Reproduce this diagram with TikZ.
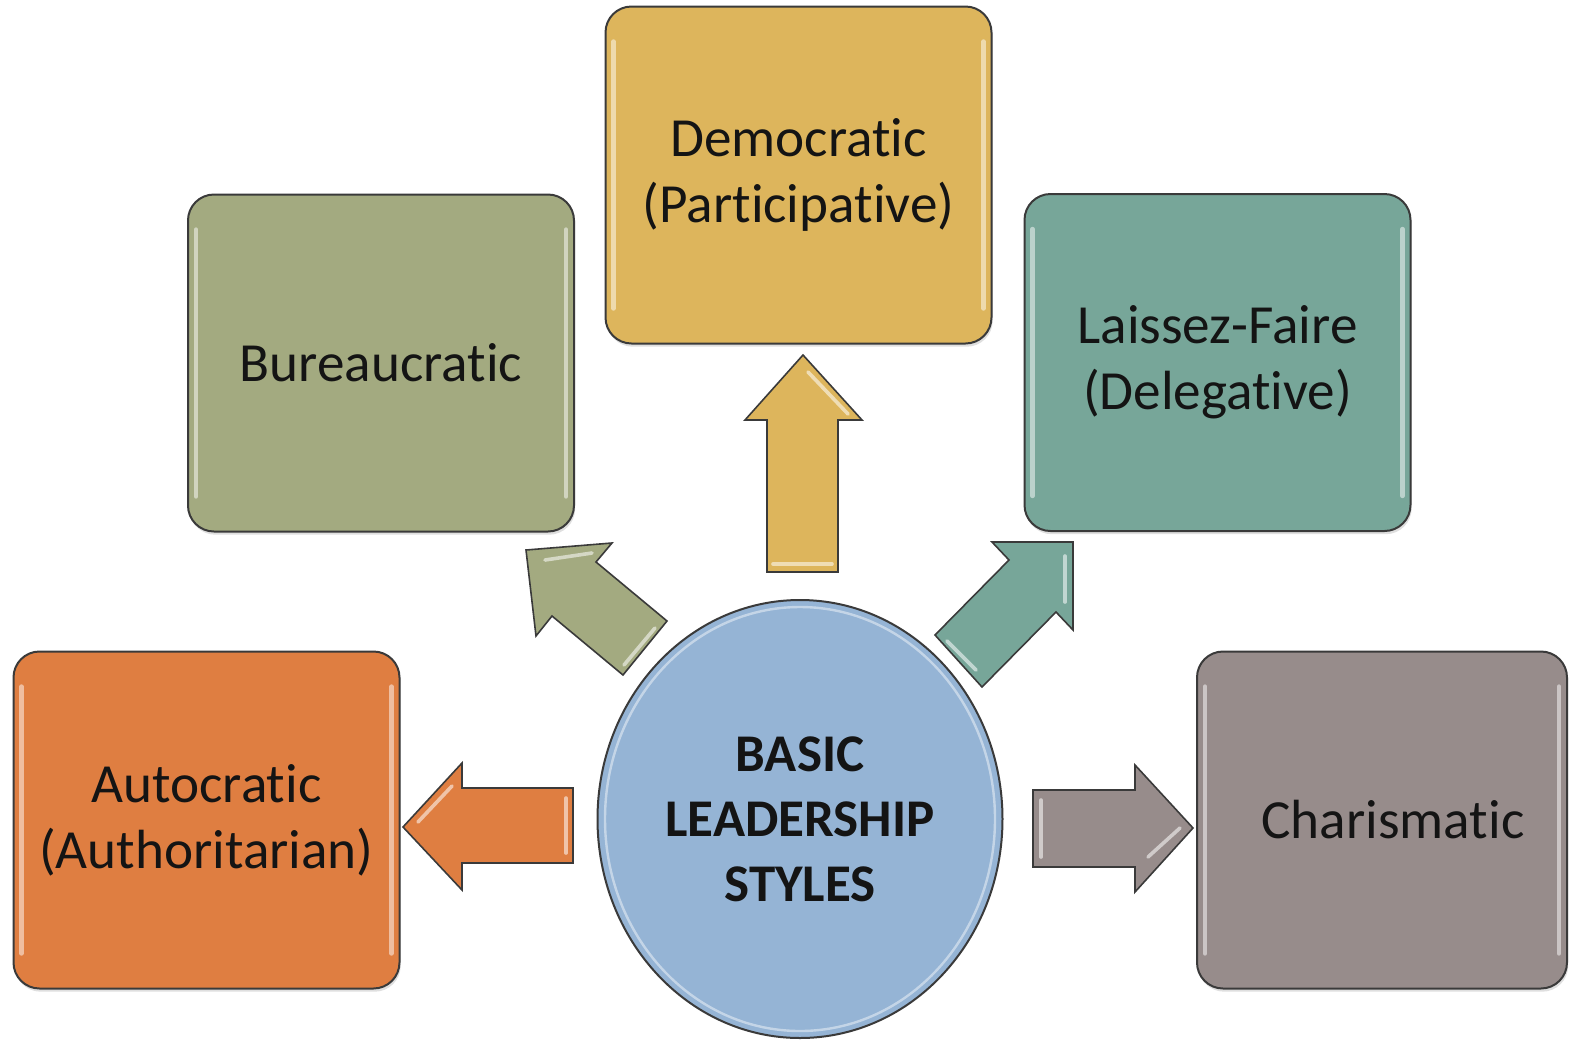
\documentclass[tikz,border=0pt]{standalone}
\usepackage{fontspec}
\setmainfont{Carlito}[Ligatures=NoCommon]
\usetikzlibrary{shapes.geometric,shadows}
\definecolor{cAuto}{HTML}{DF7E41}
\definecolor{cBur}{HTML}{A3AA80}
\definecolor{cDem}{HTML}{DDB55C}
\definecolor{cLai}{HTML}{77A699}
\definecolor{cCha}{HTML}{978C8B}
\definecolor{cCircle}{HTML}{95B4D5}
\definecolor{cBorder}{HTML}{3A3A3A}
\definecolor{cText}{HTML}{141414}
\begin{document}
\begin{tikzpicture}[x=0.5pt,y=-0.5pt,
  stylebox/.style={draw=cBorder, line width=1pt, rounded corners=13pt,
    minimum width=193pt, minimum height=168.5pt, align=center, inner sep=0pt,
    font=\fontsize{27.6}{33}\selectfont, text=cText,
    drop shadow={opacity=0.25,shadow xshift=0.6pt,shadow yshift=-1.6pt}},
  blockarrow/.style={draw=cBorder, line width=0.8pt, line join=miter},
  hl/.style={white, opacity=0.55, line width=1.8pt, line cap=round},
  boxhl/.style={white, opacity=0.5, line width=2.2pt, line cap=round}]
\useasboundingbox (0,0) rectangle (1570,1040);

% block arrows
\draw[blockarrow, fill=cDem] (767,572) -- (767,420) -- (745,420) -- (803,355) -- (862,420) -- (838,420) -- (838,572) -- cycle;
\draw[blockarrow, fill=cAuto] (573,788) -- (462,788) -- (462,763) -- (403,827) -- (462,890) -- (462,863) -- (573,863) -- cycle;
\draw[blockarrow, fill=cCha] (1033,790) -- (1135,790) -- (1135,765) -- (1193,828) -- (1135,892) -- (1135,867) -- (1033,867) -- cycle;
\draw[blockarrow, fill=cLai] (935,635) -- (1009,560) -- (992,542) -- (1073,542) -- (1073,630) -- (1056,612) -- (982,687) -- cycle;
\draw[blockarrow, fill=cBur] (667,621) -- (596,562) -- (612,543) -- (526,550) -- (536,636) -- (552,616) -- (623,675) -- cycle;

% arrow highlights
\draw[hl] (773,564) -- (832,564);
\draw[hl] (808,372) -- (848,414);
\draw[hl] (566,798) -- (566,853);
\draw[hl] (418,822) -- (452,786);
\draw[hl] (1041,800) -- (1041,857);
\draw[hl] (1148,857) -- (1180,828);
\draw[hl] (947,641) -- (976,670);
\draw[hl] (1065,556) -- (1065,602);
\draw[hl] (655,628) -- (624,665);
\draw[hl] (545,560) -- (592,553);

% boxes
\node[stylebox, fill=cAuto] (auto) at (206.5,820) {Autocratic\\(Authoritarian)};
\node[stylebox, fill=cBur] (bur) at (381,363) {Bureaucratic};
\node[stylebox, fill=cDem] (dem) at (798.5,175) {Democratic\\(Participative)};
\node[stylebox, fill=cLai] (lai) at (1217.5,362.5) {Laissez-Faire\\(Delegative)};
\node[stylebox, fill=cCha, minimum width=185pt] (cha) at (1382,820) {\hspace*{11pt}Charismatic};

% box highlights
\foreach \b in {auto,bur,dem,lai,cha}{
  \draw[boxhl] ([xshift=4.5pt,yshift=-18pt]\b.north west) -- ([xshift=4.5pt,yshift=18pt]\b.south west);
  \draw[boxhl] ([xshift=-4.5pt,yshift=-18pt]\b.north east) -- ([xshift=-4.5pt,yshift=18pt]\b.south east);
}

% centre
\node[ellipse, draw=cBorder, line width=1pt, fill=cCircle,
  minimum width=202.5pt, minimum height=219pt, inner sep=0pt, align=center,
  text=cText, font=\bfseries\fontsize{26.5}{32.5}\selectfont] (hub) at (800,819) {BASIC\\LEADERSHIP\\STYLES};
\draw[white, opacity=0.45, line width=1.2pt] (hub.center) ellipse [x radius=195, y radius=212];
\end{tikzpicture}
\end{document}
